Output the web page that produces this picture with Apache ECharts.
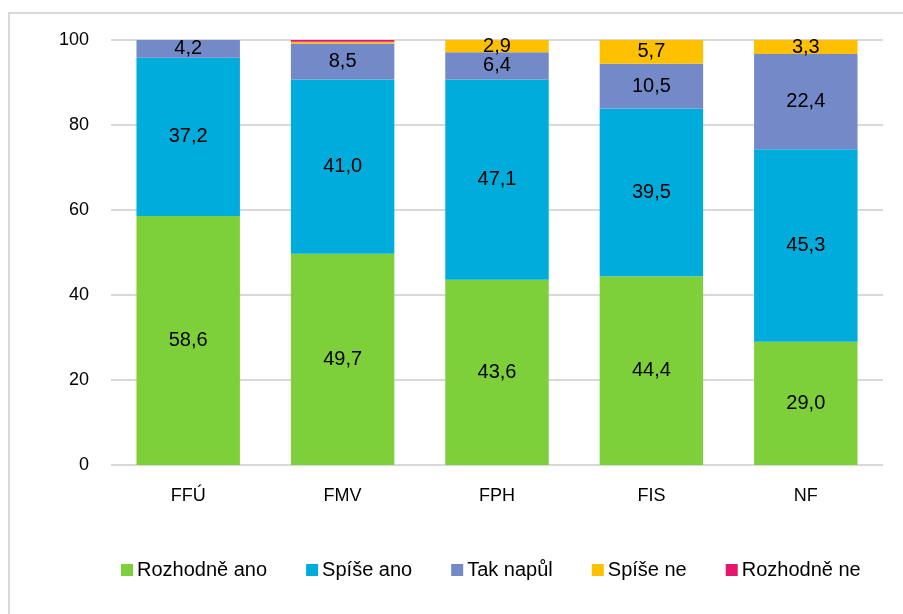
<!DOCTYPE html>
<html>
<head>
<meta charset="utf-8">
<script src="https://cdn.jsdelivr.net/npm/echarts@6/dist/echarts.min.js"></script>
<style>
  html, body { margin: 0; padding: 0; background: #fff; }
  #chart { width: 903px; height: 614px; }
</style>
</head>
<body>
<div id="chart"></div>
<script>
// categories and series
const categories = ['FFÚ', 'FMV', 'FPH', 'FIS', 'NF'];
const seriesNames = ['Rozhodně ano', 'Spíše ano', 'Tak napůl', 'Spíše ne', 'Rozhodně ne'];
const rozhodneAno = [58.6, 49.7, 43.6, 44.4, 29.0];
const spiseAno = [37.2, 41.0, 47.1, 39.5, 45.3];
const takNapul = [4.2, 8.5, 6.4, 10.5, 22.4];
const spiseNe = [0, 0.4, 2.9, 5.7, 3.3];
const rozhodneNe = [0, 0.4, 0, 0, 0];
const yTicks = [0, 20, 40, 60, 80, 100];

const colors = ['#7ed03b', '#00acdc', '#7389c8', '#ffc000', '#e6166e'];
const values = [rozhodneAno, spiseAno, takNapul, spiseNe, rozhodneNe];

const chart = echarts.init(document.getElementById('chart'));

const series = seriesNames.map((name, i) => ({
  name: name,
  type: 'bar',
  stack: 'total',
  barCategoryGap: '33%',
  data: values[i],
  itemStyle: { color: colors[i] },
  label: {
    show: true,
    position: 'inside',
    color: '#000',
    fontSize: 20,
    fontFamily: 'Liberation Sans, Arial, sans-serif',
    formatter(p) {
      // small segments have no label in the reference
      if (p.value < 1) return '';
      return p.value.toFixed(1).replace('.', ',');
    }
  }
}));

chart.setOption({
  animation: false,
  textStyle: { fontFamily: 'Liberation Sans, Arial, sans-serif' },
  graphic: [{
    type: 'rect',
    shape: { x: 9, y: 13, width: 1000, height: 1000 },
    style: { fill: 'none', stroke: '#d9d9d9', lineWidth: 2 },
    silent: true
  }],
  grid: { left: 111, right: 20, top: 40, bottom: 149, containLabel: false },
  legend: {
    bottom: 29,
    left: 116,
    itemWidth: 12,
    itemHeight: 12,
    itemGap: 39,
    icon: 'rect',
    textStyle: { fontSize: 20, color: '#000', padding: [0, 0, 0, -1] },
    data: seriesNames
  },
  xAxis: {
    type: 'category',
    data: categories,
    axisTick: { show: false },
    axisLine: { show: false },
    axisLabel: { fontSize: 18, color: '#000', margin: 22 }
  },
  yAxis: {
    type: 'value',
    min: yTicks[0],
    max: yTicks[yTicks.length - 1],
    interval: 20,
    axisLine: { show: false },
    axisTick: { show: false },
    axisLabel: { fontSize: 18, color: '#000', margin: 22 },
    splitLine: { lineStyle: { color: '#d9d9d9', width: 2 } }
  },
  series: series
});
</script>
</body>
</html>
